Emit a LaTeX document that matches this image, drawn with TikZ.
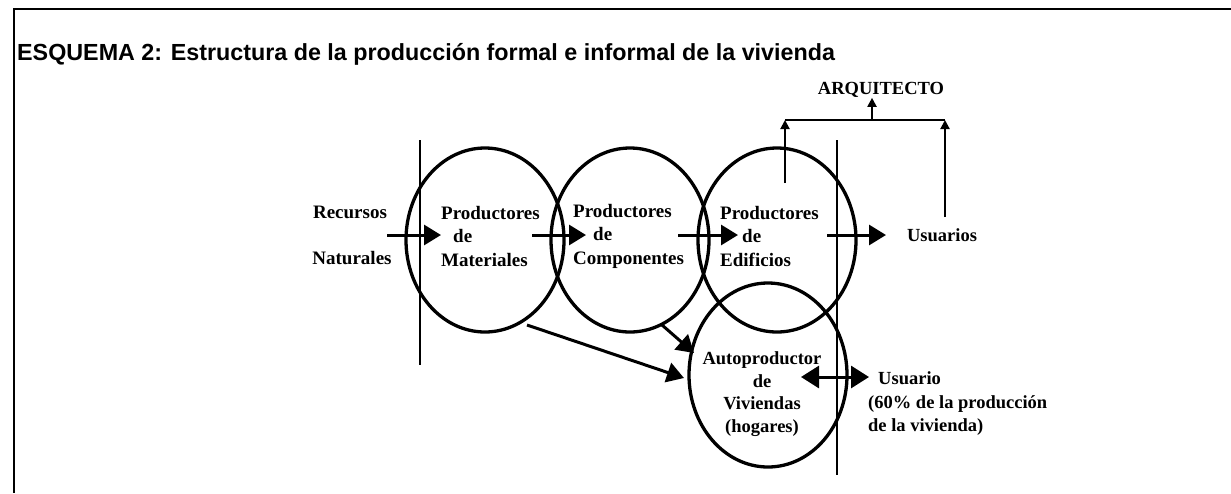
\documentclass[tikz,border=0pt]{standalone}
\usepackage{fontspec}
\setmainfont{Liberation Serif}
\newfontfamily\titlefont{Liberation Sans}
\usetikzlibrary{arrows.meta,shapes.geometric}
\begin{document}
\begin{tikzpicture}[x=1pt,y=-1pt,
  oval/.style={draw, line width=3.3pt, ellipse, minimum width=158pt, minimum height=184pt, inner sep=0pt},
  lbl/.style={font=\fontsize{19}{23.5}\selectfont\bfseries, inner sep=0pt, align=left},
  lbls/.style={font=\fontsize{18.5}{23.5}\selectfont\bfseries, inner sep=0pt, align=left},
  lblc/.style={font=\fontsize{18.5}{22.5}\selectfont\bfseries, inner sep=0pt, align=center},
  bigarrow/.style={line width=3pt, -{Triangle[length=17pt,width=20pt]}},
  dblarrow/.style={line width=3pt, {Triangle[length=18pt,width=22pt]}-{Triangle[length=18pt,width=22pt]}},
  thinline/.style={line width=1.4pt},
  brk/.style={line width=2pt},
  brkarrow/.style={line width=2pt, -{Triangle[length=9pt,width=9pt]}},
  frameline/.style={line width=2.6pt}
]
\useasboundingbox (0,0) rectangle (1231,493);
\fill[white] (0,0) rectangle (1231,493);

% frame
\coordinate (fr1) at (1231,9);
\coordinate (fr2) at (14,9);
\coordinate (fr3) at (14,493);
\draw[frameline] (fr1) -- (fr2) -- (fr3);

% title
\node[anchor=base west, inner sep=0pt, font=\titlefont\fontsize{23.3}{26}\selectfont\bfseries] (title) at (17,60)
  {ESQUEMA 2: Estructura de la producción formal e informal de la vivienda};

% ovals
\node[oval] (c1) at (485,240) {};
\node[oval] (c2) at (630,240) {};
\node[oval] (c3) at (777,240) {};
\node[oval] (c4) at (768,375) {};

% vertical lines
\coordinate (v1t) at (420,140);
\coordinate (v1b) at (420,365);
\coordinate (v2t) at (837,140);
\coordinate (v2b) at (837,475);
\draw[thinline] (v1t) -- (v1b);
\draw[thinline] (v2t) -- (v2b);

% labels
\node[lbl, anchor=center] (rec) at (350,212) {Recursos};
\node[lbl, anchor=center] (nat) at (352,258) {Naturales};
\node[lbl, anchor=west] (mat) at (441,236) {Productores\\\hspace{12pt}de\\Materiales};
\node[lbl, anchor=west] (com) at (573,236) {Productores\\\hspace{20pt}de\\Componentes};
\node[lbl, anchor=west] (edi) at (720,236) {Productores\\\hspace{22pt}de\\Edificios};
\node[lbls, anchor=center] (usu) at (942,235) {Usuarios};
\node[lbls, anchor=center] (arq) at (881,90) {ARQUITECTO};
\node[lblc, anchor=center] (aut) at (762,394) {Autoproductor\\de\\Viviendas\\(hogares)};
\node[lbls, anchor=west] (usr) at (868,404) {\hspace{10pt}Usuario\\(60\% de la producción\\de la vivienda)};

% horizontal arrows
\coordinate (a1s) at (387,235); \coordinate (a1e) at (441,235);
\coordinate (a2s) at (532,235); \coordinate (a2e) at (586,235);
\coordinate (a3s) at (678,235); \coordinate (a3e) at (738,235);
\coordinate (a4s) at (827,235); \coordinate (a4e) at (886,235);
\draw[bigarrow] (a1s) -- (a1e);
\draw[bigarrow] (a2s) -- (a2e);
\draw[bigarrow] (a3s) -- (a3e);
\draw[bigarrow] (a4s) -- (a4e);

% diagonal arrows
\coordinate (d1s) at (527,325); \coordinate (d1e) at (684,378);
\coordinate (d2s) at (662,325); \coordinate (d2e) at (694,353);
\draw[bigarrow] (d1s) -- (d1e);
\draw[bigarrow] (d2s) -- (d2e);

% double arrow
\coordinate (b1) at (801,377); \coordinate (b2) at (869,377);
\draw[dblarrow] (b1) -- (b2);

% architect bracket
\coordinate (kl) at (785,183); \coordinate (klt) at (785,120);
\coordinate (kr) at (945,217); \coordinate (krt) at (945,120);
\coordinate (km) at (872,120);
\draw[brk] (klt) -- (krt);
\draw[brkarrow] (kl) -- (klt);
\draw[brkarrow] (kr) -- (krt);
\draw[brkarrow] (km) -- (arq.south -| km);
\end{tikzpicture}
\end{document}
